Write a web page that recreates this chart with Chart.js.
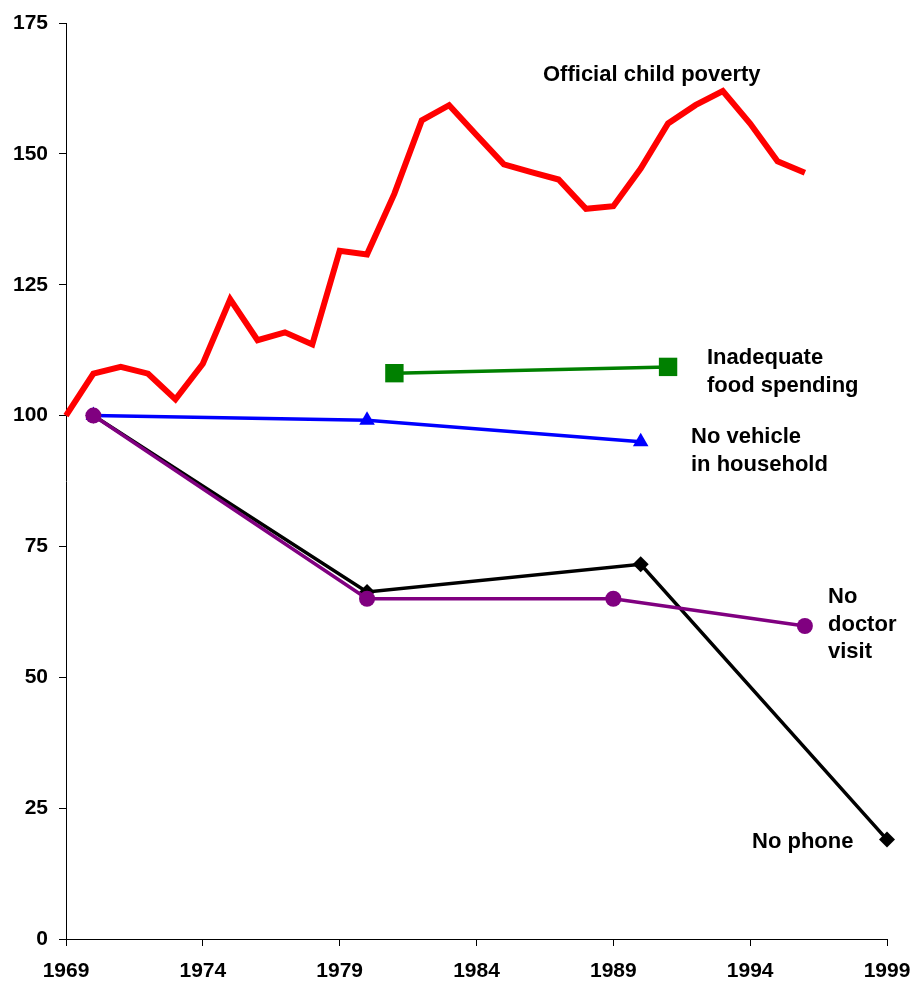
<!DOCTYPE html>
<html>
<head>
<meta charset="utf-8">
<script src="https://cdn.jsdelivr.net/npm/chart.js@4"></script>
<style>
  html, body { margin: 0; padding: 0; background: #fff; }
  #wrap { width: 915px; height: 983px; }
</style>
</head>
<body>
<div id="wrap"><canvas id="povChart" width="915" height="983"></canvas></div>
<script>
// index values, 1969/1970 = 100
const povertyYears = [1969, 1970, 1971, 1972, 1973, 1974, 1975, 1976, 1977, 1978, 1979, 1980, 1981, 1982,
  1983, 1984, 1985, 1986, 1987, 1988, 1989, 1990, 1991, 1992, 1993, 1994, 1995, 1996];
const povertyValues = [100, 108.0, 109.3, 108.0, 103.1, 109.9, 122.2, 114.4, 115.9, 113.6, 131.5, 130.8, 142.4, 156.4,
  159.3, 153.6, 148.0, 146.5, 145.1, 139.5, 140.0, 147.2, 155.8, 159.3, 162.0, 155.8, 148.6, 146.4];

const foodYears = [1981, 1991];
const foodValues = [108.1, 109.3];

const vehicleYears = [1970, 1980, 1990];
const vehicleValues = [100, 99.1, 95.0];

const phoneYears = [1970, 1980, 1990, 1999];
const phoneValues = [100, 66.3, 71.6, 19.0];

const doctorYears = [1970, 1980, 1989, 1996];
const doctorValues = [100, 65.0, 65.0, 59.8];

const xTicks = [1969, 1974, 1979, 1984, 1989, 1994, 1999];
const yTicks = [0, 25, 50, 75, 100, 125, 150, 175];

const FONT = '"Liberation Sans", Arial, sans-serif';

function pts(xs, ys) {
  return xs.map((x, i) => ({ x: x, y: ys[i] }));
}

// series labels written next to the lines
const seriesLabels = {
  id: 'seriesLabels',
  afterDatasetsDraw(chart) {
    const ctx = chart.ctx;
    ctx.save();
    ctx.fillStyle = '#000';
    ctx.font = 'bold 22px ' + FONT;
    ctx.textAlign = 'left';
    ctx.textBaseline = 'alphabetic';
    const lines = [
      ['Official child poverty', 543, 81],
      ['Inadequate', 707, 364],
      ['food spending', 707, 392],
      ['No vehicle', 691, 443],
      ['in household', 691, 471],
      ['No', 828, 603],
      ['doctor', 828, 631],
      ['visit', 828, 658],
      ['No phone', 752, 848]
    ];
    lines.forEach(([t, x, y]) => ctx.fillText(t, x, y));
    ctx.restore();
  }
};

const ctx = document.getElementById('povChart').getContext('2d');
new Chart(ctx, {
  type: 'line',
  data: {
    datasets: [
      {
        label: 'Official child poverty',
        data: pts(povertyYears, povertyValues),
        borderColor: '#FF0000',
        borderWidth: 6,
        pointRadius: 0
      },
      {
        label: 'No doctor visit',
        data: pts(doctorYears, doctorValues),
        borderColor: '#800080',
        backgroundColor: '#800080',
        borderWidth: 3.5,
        pointStyle: 'circle',
        pointRadius: 8,
        pointBorderWidth: 0
      },
      {
        label: 'No phone',
        data: pts(phoneYears, phoneValues),
        borderColor: '#000000',
        backgroundColor: '#000000',
        borderWidth: 3.5,
        pointStyle: 'rectRot',
        pointRadius: 8,
        pointBorderWidth: 0
      },
      {
        label: 'No vehicle in household',
        data: pts(vehicleYears, vehicleValues),
        borderColor: '#0000FF',
        backgroundColor: '#0000FF',
        borderWidth: 3.5,
        pointStyle: 'triangle',
        pointRadius: 9,
        pointBorderWidth: 0
      },
      {
        label: 'Inadequate food spending',
        data: pts(foodYears, foodValues),
        borderColor: '#008000',
        backgroundColor: '#008000',
        borderWidth: 3.5,
        pointStyle: 'rect',
        pointRadius: 13,
        pointBorderWidth: 0
      }
    ]
  },
  options: {
    responsive: false,
    animation: false,
    clip: false,
    layout: { padding: { top: 23, right: 28, left: 0, bottom: 0 } },
    plugins: {
      legend: { display: false },
      tooltip: { enabled: false }
    },
    elements: { line: { tension: 0 } },
    scales: {
      x: {
        type: 'linear',
        min: 1969,
        max: 1999,
        afterBuildTicks: (scale) => { scale.ticks = xTicks.map(v => ({ value: v })); },
        afterFit: (scale) => {
          scale.height = 44;
          scale.paddingLeft = 0;
          scale.paddingRight = 0;
        },
        grid: { drawOnChartArea: false, drawTicks: true, tickLength: 7, color: '#000' },
        border: { display: true, color: '#000', width: 1 },
        ticks: {
          color: '#000',
          padding: 13,
          maxRotation: 0,
          autoSkip: false,
          font: { family: FONT, size: 21, weight: 'bold' },
          callback: (v) => String(v)
        }
      },
      y: {
        min: 0,
        max: 175,
        afterBuildTicks: (scale) => { scale.ticks = yTicks.map(v => ({ value: v })); },
        afterFit: (scale) => {
          scale.width = 66;
          scale.paddingTop = 0;
          scale.paddingBottom = 0;
        },
        grid: { drawOnChartArea: false, drawTicks: true, tickLength: 7, color: '#000' },
        border: { display: true, color: '#000', width: 1 },
        ticks: {
          color: '#000',
          padding: 11,
          font: { family: FONT, size: 21, weight: 'bold' }
        }
      }
    }
  },
  plugins: [seriesLabels]
});
</script>
</body>
</html>
